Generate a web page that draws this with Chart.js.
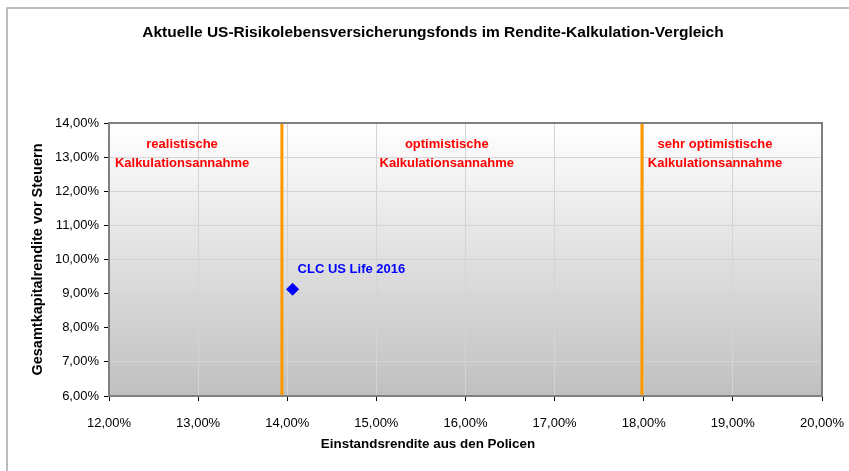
<!DOCTYPE html>
<html lang="de">
<head>
<meta charset="UTF-8">
<title>Rendite-Kalkulation-Vergleich</title>
<script src="https://cdn.jsdelivr.net/npm/chart.js"></script>
<style>
    html, body { margin: 0; padding: 0; background: #fff; }
    .chart-container { position: relative; width: 849px; height: 471px; }
</style>
</head>
<body>
<div class="chart-container">
    <canvas id="grafico" width="849" height="471"></canvas>
</div>
<script>
    // Datos
    const fondsNamen = ['CLC US Life 2016'];
    const einstandsrendite = [14.06];
    const gesamtrendite = [9.13];
    const grenzen = [13.94, 17.98];
    const zonenTexte = [
        ['realistische', 'Kalkulationsannahme'],
        ['optimistische', 'Kalkulationsannahme'],
        ['sehr optimistische', 'Kalkulationsannahme']
    ];
    const zonenMitte = [12.82, 15.79, 18.8];

    const fmt = v => v.toFixed(2).replace('.', ',') + '%';
    const FONT = "'Liberation Sans', Arial, sans-serif";

    // Fondo degradado, marco y textos
    const dekor = {
        id: 'dekor',
        beforeDraw(chart) {
            const ctx = chart.ctx, a = chart.chartArea;
            ctx.save();
            ctx.fillStyle = '#fff';
            ctx.fillRect(0, 0, chart.width, chart.height);
            ctx.strokeStyle = '#a6a6a6';
            ctx.lineWidth = 1.5;
            ctx.strokeRect(7, 8, chart.width + 10, chart.height + 10);
            const g = ctx.createLinearGradient(0, a.top, 0, a.bottom);
            g.addColorStop(0, '#ffffff');
            g.addColorStop(1, '#c0c0c0');
            ctx.fillStyle = g;
            ctx.fillRect(a.left, a.top, a.right - a.left, a.bottom - a.top);
            ctx.restore();
        },
        afterDraw(chart) {
            const ctx = chart.ctx, a = chart.chartArea;
            const xs = chart.scales.x, ys = chart.scales.y;
            ctx.save();
            ctx.strokeStyle = '#808080';
            ctx.lineWidth = 2;
            ctx.strokeRect(a.left, a.top, a.right - a.left, a.bottom - a.top);

            ctx.fillStyle = '#000';
            ctx.font = 'bold 15.5px ' + FONT;
            ctx.textAlign = 'center';
            ctx.textBaseline = 'middle';
            ctx.fillText('Aktuelle US-Risikolebensversicherungsfonds im Rendite-Kalkulation-Vergleich', 433, 33);

            ctx.font = 'bold 13.4px ' + FONT;
            ctx.fillText('Einstandsrendite aus den Policen', 428, 444);

            ctx.fillStyle = '#ff0000';
            ctx.font = 'bold 13px ' + FONT;
            zonenTexte.forEach((t, i) => {
                const x = xs.getPixelForValue(zonenMitte[i]);
                ctx.fillText(t[0], x, ys.getPixelForValue(13.37));
                ctx.fillText(t[1], x, ys.getPixelForValue(12.81));
            });

            ctx.fillStyle = '#0000ff';
            ctx.textAlign = 'left';
            fondsNamen.forEach((n, i) => {
                const x = xs.getPixelForValue(einstandsrendite[i]);
                const y = ys.getPixelForValue(gesamtrendite[i]);
                ctx.fillText(n, x + 5, y - 20);
            });
            ctx.restore();
        }
    };

    const datasets = [{
        data: einstandsrendite.map((x, i) => ({ x, y: gesamtrendite[i] })),
        pointStyle: 'rectRot',
        pointRadius: 6,
        backgroundColor: '#0000ff',
        borderColor: '#0000ff',
        showLine: false
    }];
    grenzen.forEach(g => datasets.push({
        type: 'line',
        data: [{ x: g, y: 6 }, { x: g, y: 14 }],
        borderColor: '#ff9900',
        borderWidth: 3,
        pointRadius: 0
    }));

    new Chart(document.getElementById('grafico'), {
        type: 'scatter',
        data: { datasets },
        options: {
            responsive: false,
            animation: false,
            devicePixelRatio: 1,
            layout: { padding: { left: 10, top: 123, right: 27, bottom: 10 } },
            plugins: { legend: { display: false }, tooltip: { enabled: false } },
            scales: {
                x: {
                    type: 'linear', min: 12, max: 20,
                    afterFit: s => { s.height = 65; s.paddingLeft = 0; s.paddingRight = 0; },
                    ticks: { stepSize: 1, callback: fmt, color: '#000', font: { family: FONT, size: 13 }, padding: 15, maxRotation: 0 },
                    grid: { color: '#d4d4d4', tickColor: '#000', tickLength: 5 },
                    border: { color: '#808080', width: 2 }
                },
                y: {
                    min: 6, max: 14,
                    afterFit: s => { s.width = 99; s.paddingTop = 0; s.paddingBottom = 0; },
                    ticks: { stepSize: 1, callback: fmt, color: '#000', font: { family: FONT, size: 13 }, padding: 5 },
                    grid: { color: '#d4d4d4', tickColor: '#000', tickLength: 5 },
                    border: { color: '#808080', width: 2 },
                    title: { display: true, text: 'Gesamtkapitalrendite vor Steuern', color: '#000', font: { family: FONT, size: 14.5, weight: 'bold' }, padding: { top: 19, bottom: 4 } }
                }
            }
        },
        plugins: [dekor]
    });
</script>
</body>
</html>
